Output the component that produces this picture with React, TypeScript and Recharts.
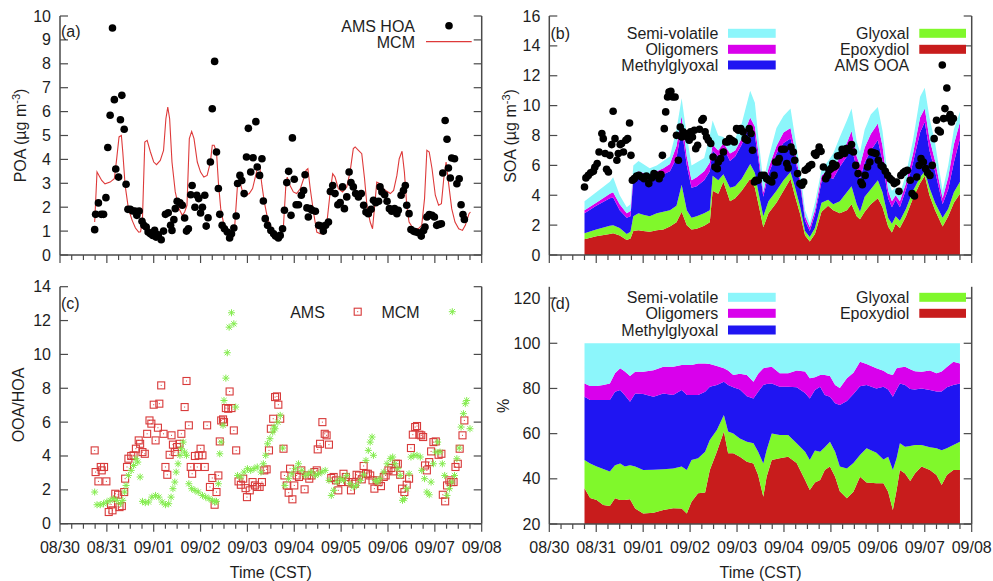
import React from "react";
import { ComposedChart, Area, Line, Scatter, XAxis, YAxis } from "recharts";

const FONT = '"Liberation Sans", Arial, Helvetica, sans-serif';
const INK = "#1e1e1e";
const FRAME = "#4a4a4a";
const C_SEMI = "#8cf6fb";
const C_OLIG = "#d900ec";
const C_METHYL = "#1f15f2";
const C_GLYOXAL = "#80f82b";
const C_EPOXY = "#c81c1c";
const C_MCM_LINE = "#de3a3a";
const C_AMS_SQ = "#d83a3a";
const C_MCM_STAR = "#84ec4e";

// time axis: days after 08/30 00:00 CST, minor ticks every 6 h
const dayLabels = ["08/30", "08/31", "09/01", "09/02", "09/03", "09/04", "09/05", "09/06", "09/07", "09/08"];
const timeTicks: number[] = [];
for (let i = 0; i <= 36; i++) timeTicks.push(i / 4);

const poaTicks = [0, 1, 2, 3, 4, 5, 6, 7, 8, 9, 10];
const soaTicks = [0, 2, 4, 6, 8, 10, 12, 14, 16];
const ratioTicks = [0, 2, 4, 6, 8, 10, 12, 14];
const pctTicks = [20, 40, 60, 80, 100, 120];

// (a) AMS HOA  [day, ug m-3]
const amsHoa: [number, number][] = [
  [0.74, 1.06], [0.76, 1.7], [0.82, 2.18], [0.88, 1.7], [0.93, 1.7], [0.98, 2.4], [1.02, 4.5], [1.07, 5.85], [1.12, 9.5], [1.16, 6.5],
  [1.19, 3.6], [1.25, 3.26], [1.29, 5.66], [1.32, 6.68], [1.37, 5.26], [1.41, 2.96], [1.45, 1.91], [1.5, 1.91], [1.55, 1.84], [1.6, 1.84],
  [1.64, 1.66], [1.69, 1.84], [1.75, 1.41], [1.79, 1.24], [1.84, 1.17], [1.88, 0.96], [1.93, 0.89], [1.98, 0.82], [2.02, 1.03], [2.05, 0.75],
  [2.1, 0.85], [2.16, 0.64], [2.21, 1.0], [2.25, 1.7], [2.31, 1.77], [2.36, 1.24], [2.39, 1.03], [2.43, 1.48], [2.46, 1.94], [2.5, 2.25],
  [2.56, 2.18], [2.61, 2.08], [2.66, 1.55], [2.7, 1.0], [2.74, 1.1], [2.79, 2.52], [2.82, 2.91], [2.88, 2.0], [2.92, 2.5], [2.96, 2.36],
  [3.0, 1.76], [3.04, 2.0], [3.09, 2.5], [3.12, 1.21], [3.16, 1.56], [3.21, 3.89], [3.25, 6.12], [3.3, 8.1], [3.34, 4.31], [3.38, 2.78],
  [3.41, 1.7], [3.46, 1.24], [3.51, 1.1], [3.57, 0.96], [3.62, 0.71], [3.66, 0.89], [3.71, 1.13], [3.76, 1.63], [3.79, 2.99], [3.84, 3.33],
  [3.88, 3.12], [3.93, 2.57], [3.98, 4.1], [4.02, 5.3], [4.07, 3.47], [4.12, 4.07], [4.18, 5.58], [4.21, 3.68], [4.26, 3.33], [4.31, 4.03],
  [4.34, 2.26], [4.38, 1.52], [4.43, 1.24], [4.5, 1.03], [4.56, 0.89], [4.6, 0.79], [4.66, 0.71], [4.7, 0.82], [4.75, 1.1], [4.79, 1.87],
  [4.84, 3.03], [4.88, 3.5], [4.93, 1.66], [4.96, 4.9], [5.0, 3.17], [5.04, 2.1], [5.09, 2.1], [5.15, 2.5], [5.2, 2.7], [5.23, 3.36],
  [5.27, 1.97], [5.3, 1.59], [5.34, 1.94], [5.38, 1.87], [5.45, 1.83], [5.52, 1.24], [5.57, 1.21], [5.62, 1.0], [5.67, 1.24], [5.73, 1.38],
  [5.77, 2.66], [5.82, 2.91], [5.87, 2.57], [5.93, 2.1], [5.98, 2.19], [6.03, 2.85], [6.07, 1.94], [6.12, 2.43], [6.17, 3.47], [6.21, 3.03],
  [6.26, 2.85], [6.31, 2.57], [6.37, 2.43], [6.43, 2.57], [6.48, 2.08], [6.53, 1.8], [6.58, 1.73], [6.64, 1.91], [6.69, 2.29], [6.74, 2.19],
  [6.8, 2.25], [6.83, 2.85], [6.87, 2.64], [6.93, 2.52], [6.98, 2.25], [7.03, 1.94], [7.08, 1.83], [7.14, 1.94], [7.19, 1.73], [7.22, 1.87],
  [7.28, 2.5], [7.33, 2.7], [7.37, 2.91], [7.4, 2.08], [7.45, 1.73], [7.49, 1.07], [7.55, 0.99], [7.6, 0.96], [7.65, 0.93], [7.71, 0.79],
  [7.76, 1.03], [7.79, 1.17], [7.83, 1.59], [7.88, 1.69], [7.94, 1.66], [7.99, 1.59], [8.04, 1.24], [8.09, 1.28], [8.14, 1.31], [8.17, 3.43],
  [8.22, 5.63], [8.26, 4.84], [8.29, 3.64], [8.33, 3.22], [8.36, 4.06], [8.42, 4.03], [8.47, 2.98], [8.52, 3.19], [8.56, 2.1], [8.6, 1.69],
  [8.63, 1.49],
];

// (a) MCM POA
const mcmPoa: [number, number][] = [
  [0.74, 1.38], [0.79, 3.47], [0.89, 3.12], [0.96, 2.98], [1.07, 3.05], [1.16, 3.19], [1.21, 4.03], [1.26, 4.94], [1.31, 5.0], [1.34, 4.31],
  [1.39, 2.91], [1.46, 1.94], [1.54, 1.45], [1.61, 1.13], [1.68, 0.96], [1.72, 0.97], [1.76, 1.52], [1.81, 4.73], [1.86, 4.8], [1.93, 4.31],
  [2.0, 3.89], [2.06, 3.78], [2.14, 3.96], [2.21, 4.38], [2.26, 5.7], [2.3, 6.19], [2.34, 5.7], [2.39, 3.89], [2.46, 2.64], [2.54, 1.94],
  [2.61, 1.66], [2.66, 1.8], [2.71, 2.08], [2.76, 4.87], [2.81, 5.17], [2.86, 4.87], [2.93, 3.89], [3.0, 3.47], [3.07, 3.26], [3.14, 3.33],
  [3.21, 3.89], [3.25, 4.59], [3.29, 4.59], [3.34, 4.31], [3.38, 3.05], [3.43, 1.94], [3.5, 1.24], [3.57, 0.89], [3.62, 0.61], [3.68, 0.68],
  [3.73, 1.24], [3.79, 2.98], [3.84, 3.05], [3.89, 2.7], [3.96, 2.5], [4.04, 2.57], [4.11, 2.78], [4.21, 3.61], [4.26, 3.75], [4.31, 2.91],
  [4.36, 2.22], [4.43, 1.52], [4.52, 1.1], [4.63, 0.79], [4.7, 0.82], [4.77, 1.24], [4.82, 2.91], [4.85, 3.26], [4.91, 2.91], [4.98, 2.64],
  [5.05, 2.57], [5.13, 2.78], [5.2, 3.19], [5.25, 3.54], [5.29, 3.61], [5.34, 2.78], [5.41, 1.8], [5.48, 0.96], [5.55, 0.89], [5.62, 0.89],
  [5.69, 1.24], [5.77, 2.7], [5.82, 3.4], [5.87, 3.26], [5.94, 2.78], [6.03, 2.64], [6.12, 2.85], [6.19, 3.47], [6.26, 4.45], [6.3, 4.52],
  [6.37, 4.38], [6.44, 4.24], [6.5, 3.19], [6.55, 2.08], [6.62, 1.38], [6.67, 1.1], [6.73, 2.36], [6.76, 3.05], [6.83, 2.98], [6.9, 2.78],
  [6.95, 2.7], [7.05, 2.57], [7.12, 2.7], [7.19, 3.33], [7.24, 4.03], [7.3, 4.34], [7.35, 3.47], [7.4, 2.08], [7.45, 1.38], [7.54, 1.1],
  [7.65, 1.1], [7.72, 1.24], [7.78, 2.36], [7.83, 4.38], [7.88, 4.31], [7.94, 3.61], [8.01, 2.5], [8.08, 2.08], [8.14, 2.15], [8.19, 3.19],
  [8.24, 3.89], [8.29, 3.05], [8.36, 1.94], [8.43, 1.38], [8.51, 1.1], [8.59, 1.03], [8.65, 1.24], [8.73, 1.73], [8.76, 1.8],
];

// (b) MCM SOA components, ug m-3
const socT = [0.75, 1.0, 1.29, 1.36, 1.5, 1.65, 1.73, 1.79, 1.9, 2.0, 2.14, 2.29, 2.43, 2.57, 2.71, 2.82, 2.93, 3.03, 3.14, 3.3,
  3.42, 3.48, 3.6, 3.71, 3.85, 3.96, 4.1, 4.28, 4.38, 4.45, 4.56, 4.67, 4.84, 4.99, 5.14, 5.23, 5.34, 5.45, 5.55, 5.66,
  5.8, 5.94, 6.05, 6.19, 6.34, 6.44, 6.55, 6.62, 6.72, 6.85, 7.0, 7.1, 7.22, 7.3, 7.38, 7.47, 7.6, 7.75, 7.9, 8.0,
  8.1, 8.22, 8.38, 8.5, 8.62, 8.75];
const socEpoxy = [1.06, 1.25, 1.4, 1.45, 1.3, 1.0, 1.1, 1.6, 1.65, 1.6, 1.55, 1.65, 1.7, 1.9, 2.2, 2.9, 2.0, 1.7, 1.75, 1.95,
  2.2, 4.3, 4.1, 4.9, 3.6, 3.8, 4.3, 5.1, 4.5, 3.5, 1.85, 2.8, 3.5, 4.3, 5.1, 4.0, 2.8, 1.3, 0.9, 1.4,
  2.9, 3.3, 3.0, 2.8, 3.0, 3.4, 2.6, 2.4, 2.9, 3.4, 3.8, 3.2, 1.9, 1.5, 2.1, 1.8, 2.6, 3.8, 4.8, 5.3,
  4.0, 3.0, 1.9, 2.6, 3.5, 4.1];
const socGlyoxal = [0.4, 0.45, 0.55, 0.55, 0.5, 0.4, 0.45, 1.0, 1.15, 1.1, 1.05, 1.15, 1.2, 1.1, 1.1, 1.8, 1.0, 0.8, 0.85, 0.85,
  0.8, 1.0, 0.9, 0.5, 0.9, 0.8, 0.8, 1.0, 1.0, 0.8, 0.75, 0.8, 0.8, 0.7, 0.45, 0.6, 0.5, 0.3, 0.3, 0.4,
  0.6, 0.4, 0.4, 0.8, 1.2, 1.2, 0.8, 0.5, 1.0, 1.0, 1.2, 1.0, 0.6, 0.6, 0.5, 0.5, 0.5, 0.5, 0.4, 0.3,
  0.5, 0.5, 0.6, 0.5, 0.7, 0.8];
const socMethyl = [1.34, 1.6, 1.85, 1.85, 1.2, 1.1, 1.05, 2.4, 2.4, 2.3, 2.4, 2.4, 2.5, 2.6, 3.2, 3.8, 3.0, 2.0, 2.0, 2.2,
  2.6, 1.7, 1.6, 1.8, 1.8, 2.0, 2.3, 2.6, 2.5, 2.2, 1.3, 1.8, 2.5, 2.5, 2.25, 2.0, 1.5, 0.7, 0.4, 0.9,
  1.4, 1.5, 1.7, 2.3, 2.4, 2.6, 2.4, 2.2, 2.3, 2.6, 2.7, 2.1, 1.3, 1.1, 1.1, 0.9, 1.3, 1.9, 3.0, 3.3,
  2.5, 2.1, 0.9, 1.3, 2.0, 2.9];
const socOlig = [0.2, 0.2, 0.3, 0.35, 0.4, 0.3, 0.35, 0.4, 0.4, 0.5, 0.4, 0.4, 0.4, 0.5, 0.8, 0.8, 0.6, 0.5, 0.6, 0.6,
  0.6, 0.4, 0.4, 0.3, 0.5, 0.4, 0.4, 0.5, 0.6, 0.5, 0.3, 0.4, 0.5, 0.7, 0.7, 0.5, 0.3, 0.3, 0.25, 0.3,
  0.4, 0.5, 0.5, 0.7, 0.9, 1.1, 0.8, 0.9, 1.0, 1.1, 1.1, 1.0, 0.5, 0.4, 0.3, 0.4, 0.4, 0.6, 1.0, 0.9,
  0.8, 0.7, 0.4, 0.8, 1.2, 1.1];
const socSemi = [0.6, 0.7, 0.8, 1.0, 0.6, 0.4, 0.45, 0.6, 0.7, 0.6, 0.4, 0.4, 0.5, 0.5, 1.1, 1.2, 1.4, 1.0, 1.0, 0.9,
  1.8, 1.6, 1.0, 0.4, 0.6, 0.8, 1.0, 1.8, 1.6, 1.0, 0.7, 0.7, 1.2, 1.1, 1.3, 0.9, 0.7, 0.4, 0.3, 0.5,
  0.4, 0.6, 1.2, 1.3, 1.5, 1.5, 1.0, 0.9, 1.2, 1.3, 1.1, 1.0, 0.7, 0.7, 0.5, 0.5, 0.6, 0.9, 1.4, 1.4,
  1.4, 1.2, 0.5, 0.8, 1.0, 0.7];

// (b) AMS OOA
const amsOoa: [number, number][] = [
  [0.75, 4.55], [0.78, 5.16], [0.83, 5.33], [0.88, 5.51], [0.94, 5.6], [0.97, 5.87], [1.02, 6.12], [1.06, 6.9], [1.12, 8.13], [1.15, 7.79],
  [1.19, 6.79], [1.22, 5.74], [1.26, 5.56], [1.29, 6.67], [1.33, 7.39], [1.36, 9.62], [1.4, 7.79], [1.44, 6.34], [1.47, 6.79], [1.51, 7.39],
  [1.54, 7.46], [1.58, 6.9], [1.63, 7.68], [1.67, 7.79], [1.71, 8.84], [1.74, 6.67], [1.77, 5.0], [1.81, 5.11], [1.86, 5.29], [1.91, 5.33],
  [1.97, 5.22], [2.02, 5.11], [2.07, 5.29], [2.12, 4.78], [2.18, 5.16], [2.23, 5.45], [2.29, 5.33], [2.34, 5.11], [2.38, 5.38], [2.41, 6.67],
  [2.45, 8.46], [2.48, 9.58], [2.52, 10.58], [2.55, 10.91], [2.59, 10.96], [2.63, 10.58], [2.68, 10.58], [2.71, 8.01], [2.75, 6.34], [2.79, 8.57],
  [2.82, 7.9], [2.85, 8.24], [2.89, 8.13], [2.94, 7.9], [2.98, 7.68], [3.01, 8.24], [3.05, 7.9], [3.09, 8.35], [3.12, 7.12], [3.16, 7.34],
  [3.2, 8.42], [3.25, 9.02], [3.28, 9.13], [3.32, 8.24], [3.35, 7.9], [3.39, 7.68], [3.44, 7.46], [3.49, 6.56], [3.53, 5.89], [3.58, 5.78],
  [3.6, 6.23], [3.65, 6.45], [3.71, 6.9], [3.76, 7.57], [3.8, 7.57], [3.84, 7.79], [3.89, 7.68], [3.94, 7.57], [3.99, 8.46], [4.03, 8.35],
  [4.08, 8.46], [4.13, 8.24], [4.17, 7.79], [4.22, 7.68], [4.26, 8.46], [4.3, 8.13], [4.33, 7.01], [4.37, 4.89], [4.4, 5.0], [4.45, 5.0],
  [4.52, 5.33], [4.58, 5.33], [4.63, 5.11], [4.68, 5.0], [4.74, 4.89], [4.79, 5.33], [4.82, 6.23], [4.87, 6.23], [4.9, 6.45], [4.95, 7.08],
  [5.01, 7.08], [5.06, 6.12], [5.09, 5.83], [5.15, 7.23], [5.2, 6.9], [5.23, 6.34], [5.29, 5.45], [5.34, 4.78], [5.38, 4.67], [5.42, 4.89],
  [5.45, 5.67], [5.5, 5.78], [5.54, 5.96], [5.59, 6.05], [5.65, 6.79], [5.68, 6.67], [5.72, 6.9], [5.75, 7.23], [5.79, 6.94], [5.84, 5.89],
  [5.89, 5.11], [5.93, 5.33], [5.96, 5.67], [6.0, 5.78], [6.04, 6.12], [6.07, 5.89], [6.11, 6.0], [6.14, 6.63], [6.19, 6.67], [6.24, 7.08],
  [6.29, 6.79], [6.33, 7.12], [6.39, 7.01], [6.44, 7.39], [6.48, 6.9], [6.53, 6.0], [6.58, 5.45], [6.64, 4.89], [6.67, 4.71], [6.73, 5.33],
  [6.78, 5.89], [6.83, 6.23], [6.86, 6.9], [6.91, 6.85], [6.96, 6.79], [7.01, 6.34], [7.07, 6.0], [7.11, 5.89], [7.16, 5.6], [7.21, 5.33],
  [7.26, 5.11], [7.3, 5.0], [7.35, 4.78], [7.4, 4.89], [7.45, 4.26], [7.49, 5.33], [7.54, 5.51], [7.58, 5.6], [7.63, 5.67], [7.69, 5.0],
  [7.73, 4.11], [7.78, 3.95], [7.83, 5.22], [7.88, 6.0], [7.92, 6.45], [7.97, 6.23], [8.02, 5.78], [8.06, 5.51], [8.11, 5.33], [8.16, 6.0],
  [8.2, 7.79], [8.25, 9.02], [8.29, 8.35], [8.33, 8.24], [8.4, 9.13], [8.43, 9.8], [8.47, 11.18], [8.5, 9.17], [8.54, 9.4], [8.57, 8.91],
  [8.61, 9.13],
];

// (c) OOA/HOA ratio, AMS
const ratioAms: [number, number][] = [
  [0.74, 4.33], [0.76, 3.05], [0.82, 2.5], [0.87, 3.35], [0.89, 3.15], [0.94, 3.35], [0.99, 2.5], [1.04, 0.69], [1.09, 1.14], [1.12, 0.79],
  [1.18, 1.77], [1.24, 1.71], [1.27, 0.98], [1.32, 1.04], [1.37, 1.87], [1.39, 2.66], [1.43, 3.35], [1.46, 3.84], [1.52, 4.0], [1.57, 4.04],
  [1.62, 4.43], [1.68, 4.92], [1.71, 4.72], [1.76, 4.23], [1.81, 4.13], [1.86, 5.31], [1.91, 6.1], [1.95, 5.91], [2.0, 7.03], [2.04, 4.92],
  [2.09, 5.67], [2.12, 7.09], [2.16, 8.17], [2.21, 5.31], [2.25, 3.35], [2.29, 2.89], [2.34, 4.07], [2.38, 5.22], [2.41, 4.67], [2.45, 4.23],
  [2.5, 4.53], [2.55, 4.72], [2.59, 5.31], [2.66, 6.89], [2.7, 8.43], [2.75, 5.81], [2.79, 3.35], [2.82, 2.95], [2.88, 4.0], [2.93, 3.35],
  [2.96, 4.04], [3.0, 4.43], [3.04, 4.04], [3.09, 3.35], [3.14, 5.81], [3.2, 2.17], [3.25, 2.7], [3.3, 1.12], [3.34, 1.87], [3.38, 2.85],
  [3.41, 4.86], [3.44, 6.1], [3.48, 6.16], [3.5, 6.0], [3.54, 6.83], [3.59, 6.79], [3.62, 7.81], [3.66, 6.83], [3.71, 5.51], [3.76, 4.33],
  [3.81, 2.5], [3.86, 2.3], [3.91, 2.66], [3.96, 2.1], [3.99, 1.57], [4.05, 1.97], [4.11, 2.46], [4.16, 2.26], [4.21, 2.17], [4.26, 2.17],
  [4.31, 2.46], [4.36, 3.15], [4.41, 3.21], [4.46, 4.33], [4.5, 5.61], [4.55, 6.2], [4.59, 7.48], [4.63, 7.52], [4.66, 7.03], [4.7, 6.2],
  [4.77, 4.43], [4.79, 2.85], [4.84, 2.26], [4.88, 1.83], [4.91, 3.25], [4.96, 1.44], [5.0, 2.26], [5.05, 2.85], [5.1, 2.76], [5.15, 3.15],
  [5.22, 2.03], [5.27, 2.85], [5.32, 2.66], [5.37, 2.85], [5.43, 3.05], [5.48, 3.15], [5.5, 4.39], [5.55, 4.72], [5.6, 6.0], [5.65, 5.31],
  [5.69, 5.22], [5.74, 4.67], [5.79, 2.7], [5.84, 2.76], [5.89, 2.56], [5.94, 1.97], [6.0, 2.46], [6.05, 2.95], [6.1, 2.76], [6.16, 2.46],
  [6.21, 1.97], [6.24, 2.46], [6.29, 2.36], [6.33, 2.89], [6.38, 2.85], [6.44, 2.62], [6.48, 3.41], [6.53, 2.95], [6.57, 2.95], [6.62, 2.85],
  [6.67, 2.56], [6.71, 2.07], [6.76, 2.56], [6.8, 2.46], [6.85, 2.22], [6.91, 2.76], [6.95, 2.85], [7.01, 3.15], [7.07, 3.29], [7.12, 3.09],
  [7.17, 3.54], [7.21, 3.54], [7.26, 2.89], [7.3, 2.07], [7.35, 1.87], [7.4, 2.3], [7.45, 2.66], [7.49, 4.47], [7.53, 5.26], [7.58, 5.71],
  [7.62, 5.77], [7.67, 5.26], [7.71, 5.22], [7.75, 5.12], [7.79, 3.44], [7.83, 3.15], [7.88, 3.64], [7.92, 4.27], [7.97, 4.82], [8.02, 4.86],
  [8.08, 4.07], [8.14, 4.13], [8.17, 1.71], [8.22, 1.32], [8.26, 2.26], [8.31, 2.56], [8.35, 2.46], [8.4, 2.46], [8.44, 3.35], [8.49, 3.54],
  [8.53, 4.43], [8.59, 5.22], [8.63, 6.1],
];

// (c) OOA/HOA ratio, MCM
const ratioMcm: [number, number][] = [
  [0.74, 1.87], [0.79, 1.12], [0.86, 1.12], [0.93, 1.18], [1.0, 1.28], [1.07, 1.38], [1.14, 1.48], [1.21, 1.38], [1.29, 1.18], [1.34, 1.38],
  [1.38, 1.87], [1.41, 2.26], [1.46, 2.85], [1.52, 3.15], [1.57, 3.44], [1.62, 3.84], [1.66, 3.64], [1.71, 2.76], [1.76, 1.32], [1.82, 1.24],
  [1.89, 1.28], [1.96, 1.57], [2.04, 1.67], [2.11, 1.57], [2.18, 1.28], [2.25, 1.12], [2.32, 1.18], [2.37, 1.57], [2.41, 2.07], [2.45, 2.46],
  [2.48, 3.05], [2.52, 3.54], [2.56, 4.04], [2.59, 4.43], [2.63, 4.82], [2.66, 4.23], [2.7, 4.04], [2.75, 2.36], [2.81, 2.07], [2.88, 1.97],
  [2.95, 1.87], [3.04, 1.67], [3.11, 1.57], [3.18, 1.48], [3.25, 1.38], [3.31, 1.28], [3.34, 1.32], [3.38, 2.36], [3.41, 4.13], [3.44, 4.82],
  [3.48, 5.81], [3.5, 7.28], [3.54, 8.6], [3.57, 10.1], [3.61, 11.61], [3.66, 12.46], [3.71, 11.81], [3.75, 6.89], [3.79, 2.85], [3.86, 2.76],
  [3.93, 3.05], [4.0, 3.25], [4.07, 3.15], [4.14, 3.25], [4.21, 3.35], [4.29, 3.05], [4.34, 3.54], [4.39, 4.04], [4.43, 4.72], [4.48, 5.02],
  [4.54, 5.41], [4.57, 5.71], [4.59, 5.61], [4.65, 6.0], [4.7, 6.4], [4.75, 4.47], [4.8, 2.26], [4.88, 2.66], [4.95, 2.95], [5.02, 3.25],
  [5.09, 3.54], [5.16, 3.15], [5.23, 2.85], [5.3, 2.95], [5.37, 3.05], [5.45, 2.85], [5.52, 2.95], [5.59, 3.05], [5.66, 3.15], [5.74, 2.56],
  [5.79, 1.67], [5.84, 1.97], [5.91, 2.46], [5.98, 2.66], [6.05, 2.56], [6.12, 2.85], [6.19, 2.36], [6.26, 2.17], [6.33, 2.26], [6.41, 2.56],
  [6.48, 2.89], [6.53, 3.74], [6.58, 4.33], [6.62, 4.82], [6.66, 5.12], [6.69, 4.04], [6.73, 2.56], [6.78, 2.46], [6.83, 2.66], [6.91, 3.05],
  [6.98, 3.54], [7.05, 3.84], [7.1, 3.94], [7.15, 3.54], [7.21, 3.25], [7.26, 2.85], [7.31, 1.38], [7.35, 1.48], [7.4, 2.07], [7.45, 2.95],
  [7.49, 3.94], [7.55, 4.04], [7.62, 4.04], [7.69, 3.94], [7.72, 3.15], [7.78, 2.66], [7.83, 1.87], [7.88, 1.71], [7.92, 2.46], [7.97, 3.54],
  [8.02, 4.23], [8.06, 4.82], [8.11, 4.23], [8.16, 3.54], [8.21, 2.85], [8.26, 1.67], [8.31, 2.07], [8.36, 2.46], [8.42, 2.85], [8.47, 3.84],
  [8.52, 4.47], [8.56, 5.71], [8.61, 6.5], [8.65, 7.09], [8.68, 7.28], [8.75, 5.61],
];

// (d) SOA composition, %
const pctT = [0.75, 0.87, 1.01, 1.15, 1.29, 1.4, 1.51, 1.61, 1.72, 1.83, 2.0, 2.22, 2.43, 2.64, 2.82, 2.93, 3.03, 3.17, 3.32, 3.42,
  3.57, 3.72, 3.81, 3.92, 4.06, 4.21, 4.35, 4.45, 4.56, 4.63, 4.74, 4.91, 5.09, 5.27, 5.45, 5.55, 5.66, 5.77, 5.87, 5.98,
  6.09, 6.19, 6.34, 6.48, 6.62, 6.76, 6.97, 7.12, 7.22, 7.32, 7.4, 7.47, 7.58, 7.69, 7.79, 7.93, 8.11, 8.25, 8.36, 8.47,
  8.61, 8.75];
const pctEpoxy = [35.8, 31.5, 30.6, 28.4, 28.0, 31.4, 30.6, 30.6, 31.0, 26.9, 24.7, 25.0, 26.2, 27.0, 26.9, 24.7, 29.9, 33.6, 33.9, 43.9,
  52.0, 60.9, 51.3, 51.3, 49.8, 47.6, 46.8, 41.7, 32.1, 40.9, 48.3, 49.1, 49.8, 47.0, 39.5, 35.0, 38.4, 39.5, 43.9, 45.4,
  40.9, 34.5, 31.4, 34.3, 40.9, 38.4, 38.0, 38.0, 34.3, 26.2, 35.0, 43.9, 42.4, 39.0, 42.4, 45.4, 43.9, 41.7, 37.3, 41.7,
  43.9, 43.9];
const pctGlyoxal = [12.5, 15.3, 14.9, 15.9, 15.2, 14.6, 16.2, 14.8, 15.0, 18.6, 19.2, 19.0, 18.0, 17.6, 18.5, 19.2, 18.4, 15.5, 18.1, 13.3,
  9.6, 7.3, 9.6, 8.8, 8.1, 8.8, 8.9, 10.3, 14.7, 11.8, 11.8, 10.3, 9.6, 8.7, 12.5, 13.3, 14.1, 12.5, 10.1, 11.0,
  11.1, 11.0, 13.2, 12.7, 9.6, 15.1, 13.5, 10.5, 15.5, 17.7, 14.1, 11.8, 11.8, 15.5, 12.6, 9.6, 10.1, 11.8, 15.4, 11.8,
  11.1, 12.5];
const pctMethyl = [28.0, 28.1, 29.4, 30.6, 31.7, 32.5, 32.5, 31.6, 28.1, 32.3, 33.6, 32.3, 33.6, 32.5, 33.9, 33.2, 28.8, 28.0, 26.5, 23.6,
  19.9, 14.8, 20.6, 20.4, 21.6, 20.1, 19.9, 26.5, 34.7, 29.3, 22.1, 21.4, 21.4, 24.8, 26.0, 27.3, 26.8, 28.8, 23.1, 19.9,
  21.5, 27.2, 29.9, 30.5, 30.5, 28.0, 28.5, 32.3, 29.7, 32.4, 30.4, 26.5, 27.3, 25.3, 24.5, 25.0, 25.3, 25.1, 25.9, 27.0,
  26.5, 25.8];
const pctOlig = [5.9, 6.2, 6.2, 6.6, 7.3, 8.2, 9.6, 10.5, 11.4, 9.6, 9.9, 11.8, 11.8, 12.5, 11.1, 13.3, 13.3, 14.0, 12.5, 10.0,
  8.4, 5.9, 6.5, 5.5, 7.0, 9.5, 7.4, 8.0, 7.4, 7.3, 7.4, 5.9, 5.9, 7.5, 9.5, 8.9, 5.7, 5.2, 8.9, 9.2,
  8.0, 7.5, 10.0, 9.5, 10.8, 9.3, 8.9, 7.0, 7.0, 9.7, 9.4, 7.1, 8.1, 8.7, 8.1, 7.4, 8.7, 8.1, 8.9, 9.0,
  10.3, 8.9];
const pctSemi = [17.8, 18.9, 18.9, 18.5, 17.8, 13.3, 11.1, 12.5, 14.5, 12.6, 12.6, 11.9, 10.4, 10.4, 9.6, 9.6, 9.6, 8.9, 9.0, 9.2,
  10.1, 11.1, 12.0, 14.0, 13.5, 14.0, 17.0, 13.5, 11.1, 10.7, 10.4, 13.3, 13.3, 12.0, 12.5, 15.5, 15.0, 14.0, 14.0, 14.5,
  18.5, 19.8, 15.5, 13.0, 8.2, 9.2, 11.1, 12.2, 13.5, 14.0, 11.1, 10.7, 10.4, 11.5, 12.4, 12.6, 12.0, 13.3, 12.5, 10.5,
  8.2, 8.9];

const legendLeft: [string, string][] = [["Semi-volatile", C_SEMI], ["Oligomers", C_OLIG], ["Methylglyoxal", C_METHYL]];
const legendRight: [string, string][] = [["Glyoxal", C_GLYOXAL], ["Epoxydiol", C_EPOXY]];

const toPts = (a: [number, number][]) => a.map(([t, v]) => ({ t, v }));

const socData = socT.map((t, i) => ({
  t, epoxy: socEpoxy[i], glyoxal: socGlyoxal[i], methyl: socMethyl[i], olig: socOlig[i], semi: socSemi[i],
}));
const pctData = pctT.map((t, i) => ({
  t, epoxy: pctEpoxy[i], glyoxal: pctGlyoxal[i], methyl: pctMethyl[i], olig: pctOlig[i], semi: pctSemi[i],
}));

const txt = { fontFamily: FONT, fontSize: 16, fill: INK };
const frameLine = { stroke: FRAME, strokeWidth: 1.5 };

// markers
const Dot = ({ cx, cy }: any) => (cx == null ? null : <circle cx={cx} cy={cy} r={3.8} fill="#000" />);
const Square = ({ cx, cy }: any) =>
  cx == null ? null : (
    <g>
      <rect x={cx - 3.5} y={cy - 3.5} width={7} height={7} fill="none" stroke={C_AMS_SQ} strokeWidth={1.1} />
      <rect x={cx - 0.5} y={cy - 0.5} width={1} height={1} fill={C_AMS_SQ} />
    </g>
  );
const Star = ({ cx, cy }: any) =>
  cx == null ? null : (
    <path
      d={`M${cx - 3.5},${cy}H${cx + 3.5}M${cx},${cy - 3.5}V${cy + 3.5}M${cx - 2.6},${cy - 2.6}L${cx + 2.6},${cy + 2.6}M${cx - 2.6},${cy + 2.6}L${cx + 2.6},${cy - 2.6}`}
      stroke={C_MCM_STAR}
      strokeWidth={1}
      fill="none"
    />
  );

// ticks
function TimeTick({ x, y, payload, showLabel }: any) {
  const v = payload.value;
  const major = Math.abs(v - Math.round(v)) < 1e-6;
  return (
    <g>
      <line x1={x} x2={x} y1={y} y2={y + (major ? 8 : 5)} stroke={FRAME} strokeWidth={1.2} />
      {showLabel && major ? (
        <text x={x} y={y + 29} textAnchor="middle" {...txt}>
          {dayLabels[Math.round(v)]}
        </text>
      ) : null}
    </g>
  );
}
function LeftTick({ x, y, payload }: any) {
  return (
    <g>
      <line x1={x} x2={x + 8} y1={y} y2={y} stroke={FRAME} strokeWidth={1.2} />
      <text x={x - 9} y={y + 5.5} textAnchor="end" {...txt}>
        {payload.value}
      </text>
    </g>
  );
}
function RightTick({ x, y }: any) {
  return <line x1={x} x2={x - 8} y1={y} y2={y} stroke={FRAME} strokeWidth={1.2} />;
}

function frameAxes(yDomain: [number, number], yTicks: number[], yWidth: number, xHeight: number, labels: boolean) {
  return [
    <XAxis key="xb" xAxisId={0} dataKey="t" type="number" domain={[0, 9]} ticks={timeTicks} interval={0} allowDataOverflow
      height={xHeight} tickSize={0} tickMargin={0} tickLine={false} axisLine={frameLine}
      tick={(p: any) => <TimeTick {...p} showLabel={labels} />} />,
    <XAxis key="xt" xAxisId="top" orientation="top" type="number" domain={[0, 9]} height={0}
      tick={false} tickLine={false} axisLine={frameLine} />,
    <YAxis key="yl" yAxisId={0} type="number" domain={yDomain} ticks={yTicks} interval={0} allowDataOverflow
      width={yWidth} tickSize={0} tickMargin={0} tickLine={false} axisLine={frameLine} tick={LeftTick} />,
    <YAxis key="yr" yAxisId="r" orientation="right" type="number" domain={yDomain} ticks={yTicks} interval={0} allowDataOverflow
      width={1} tickSize={0} tickMargin={0} tickLine={false} axisLine={frameLine} tick={RightTick} />,
  ];
}

function stackAreas() {
  const layers: [string, string][] = [["epoxy", C_EPOXY], ["glyoxal", C_GLYOXAL], ["methyl", C_METHYL], ["olig", C_OLIG], ["semi", C_SEMI]];
  return layers.map(([k, c]) => (
    <Area key={k} type="linear" dataKey={k} stackId="s" stroke="none" fill={c} fillOpacity={1}
      dot={false} activeDot={false} isAnimationActive={false} />
  ));
}

function Annotations() {
  const rowsB = [33.3, 49.3, 65];
  const rowsD = [297.3, 313.3, 330];
  const legendBlock = (rows: number[]) => (
    <g>
      {legendLeft.map(([name, c], i) => (
        <g key={name}>
          <text x={718.3} y={rows[i] + 5.8} textAnchor="end" {...txt}>{name}</text>
          <rect x={728} y={rows[i] - 4.5} width={47.7} height={9} fill={c} />
        </g>
      ))}
      {legendRight.map(([name, c], i) => (
        <g key={name}>
          <text x={909.3} y={rows[i] + 5.8} textAnchor="end" {...txt}>{name}</text>
          <rect x={919.3} y={rows[i] - 4.5} width={46.7} height={9} fill={c} />
        </g>
      ))}
    </g>
  );
  return (
    <svg width={993} height={581} style={{ position: "absolute", left: 0, top: 0, pointerEvents: "none" }}>
      <text x={61} y={36.5} {...txt}>(a)</text>
      <text x={550.5} y={39} {...txt}>(b)</text>
      <text x={61} y={308.5} {...txt}>(c)</text>
      <text x={550.5} y={308.5} {...txt}>(d)</text>

      <text transform="translate(25.5,135.5) rotate(-90)" textAnchor="middle" {...txt}>
        POA (µg m<tspan dy={-6} fontSize={11}>-3</tspan><tspan dy={6}>)</tspan>
      </text>
      <text transform="translate(515.5,136) rotate(-90)" textAnchor="middle" {...txt}>
        SOA (µg m<tspan dy={-6} fontSize={11}>-3</tspan><tspan dy={6}>)</tspan>
      </text>
      <text transform="translate(23.8,405) rotate(-90)" textAnchor="middle" {...txt}>OOA/HOA</text>
      <text transform="translate(508.5,406) rotate(-90)" textAnchor="middle" {...txt}>%</text>
      <text x={270.8} y={577.5} textAnchor="middle" {...txt}>Time (CST)</text>
      <text x={760.5} y={577.5} textAnchor="middle" {...txt}>Time (CST)</text>

      {/* (a) legend */}
      <text x={415} y={31.5} textAnchor="end" {...txt}>AMS HOA</text>
      <Dot cx={449} cy={25.7} />
      <text x={415} y={47.5} textAnchor="end" {...txt}>MCM</text>
      <line x1={426} x2={471.7} y1={41.7} y2={41.7} stroke={C_MCM_LINE} strokeWidth={1.2} />

      {/* (b) legend */}
      {legendBlock(rowsB)}
      <text x={909.3} y={rowsB[2] + 5.8} textAnchor="end" {...txt}>AMS OOA</text>
      <Dot cx={942.3} cy={rowsB[2]} />

      {/* (c) legend */}
      <text x={307.5} y={317.5} textAnchor="middle" {...txt}>AMS</text>
      <Square cx={357.7} cy={311.7} />
      <text x={400.5} y={317.5} textAnchor="middle" {...txt}>MCM</text>
      <Star cx={452.3} cy={311.7} />

      {/* (d) legend */}
      {legendBlock(rowsD)}
    </svg>
  );
}

export default function App() {
  const hoaPts = toPts(amsHoa);
  const mcmPts = toPts(mcmPoa);
  const ooaPts = toPts(amsOoa);
  const amsPts = toPts(ratioAms);
  const mcmRatioPts = toPts(ratioMcm);
  return (
    <div style={{ position: "absolute", left: 0, top: 0, width: 993, height: 581, background: "#fff", overflow: "hidden" }}>
      <div style={{ position: "absolute", left: 0, top: 0 }}>
        <ComposedChart width={490} height={270} margin={{ top: 16, right: 7.3, bottom: 0, left: 0 }}>
          {frameAxes([0, 10], poaTicks, 60, 15, false)}
          <Scatter data={hoaPts} dataKey="v" shape={Dot} isAnimationActive={false} />
          <Line data={mcmPts} dataKey="v" type="linear" stroke={C_MCM_LINE} strokeWidth={1.1} dot={false}
            activeDot={false} isAnimationActive={false} />
        </ComposedChart>
      </div>

      <div style={{ position: "absolute", left: 490, top: 0 }}>
        <ComposedChart width={503} height={270} data={socData} margin={{ top: 16, right: 20.3, bottom: 0, left: 0 }}>
          {frameAxes([0, 16], soaTicks, 59.3, 15, false)}
          {stackAreas()}
          <Scatter data={ooaPts} dataKey="v" shape={Dot} isAnimationActive={false} />
        </ComposedChart>
      </div>

      <div style={{ position: "absolute", left: 490, top: 270 }}>
        <ComposedChart width={503} height={311} data={pctData} margin={{ top: 16.8, right: 20.3, bottom: 0, left: 0 }}>
          {frameAxes([20, 125], pctTicks, 59.3, 57, true)}
          {stackAreas()}
        </ComposedChart>
      </div>

      {/* wider than its half so the last date label is not clipped */}
      <div style={{ position: "absolute", left: 0, top: 270 }}>
        <ComposedChart width={512} height={311} margin={{ top: 16.7, right: 29.3, bottom: 0, left: 0 }}>
          {frameAxes([0, 14], ratioTicks, 60, 57.3, true)}
          <Scatter data={amsPts} dataKey="v" shape={Square} isAnimationActive={false} />
          <Scatter data={mcmRatioPts} dataKey="v" shape={Star} isAnimationActive={false} />
        </ComposedChart>
      </div>

      <Annotations />
    </div>
  );
}
